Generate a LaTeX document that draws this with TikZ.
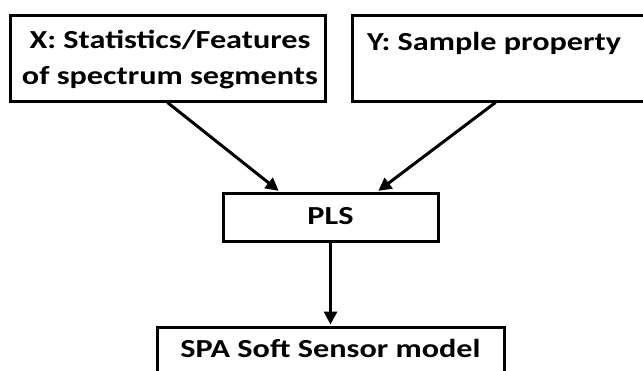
\documentclass[tikz,border=0pt]{standalone}
\usepackage{fontspec}
\setmainfont{Carlito}[FakeStretch=1.24]
\usetikzlibrary{arrows.meta}
\begin{document}
\begin{tikzpicture}[x=1pt,y=-1pt,
  box/.style={draw=black,line width=3pt,fill=white,inner sep=0pt},
  lbl/.style={anchor=base,inner sep=0pt,font=\fontsize{26}{31}\selectfont\bfseries},
  link/.style={line width=3pt,-{Triangle[length=13pt,width=13pt]},shorten >=1pt}]
\useasboundingbox (0,0) rectangle (643,370);
\clip (0,0) rectangle (643,370);
\fill[white] (0,0) rectangle (643,370);
% input boxes (the right one runs off the page)
\node[box,minimum width=315pt,minimum height=86pt] (X) at (167.5,58) {};
\node[box,minimum width=360pt,minimum height=86pt] (Y) at (532,58) {};
% model fitting and output
\node[box,minimum width=215pt,minimum height=48pt] (PLS) at (330.5,217) {};
\node[box,minimum width=347pt,minimum height=68pt] (SPA) at (330.5,361) {};
% labels
\node[lbl] (Xa) at (170,48.5) {X: Statistics/Features};
\node[lbl] (Xb) at (170,84) {of spectrum segments};
\node[lbl] (Yt) at (494,50) {Y: Sample property};
\node[lbl] (Pt) at (330.5,224) {PLS};
\node[lbl] (St) at (330.5,357) {SPA Soft Sensor model};
% connectors
\draw[link] (X.south) -- ([xshift=-51pt]PLS.north);
\draw[link] ([xshift=145pt]Y.south west) -- ([xshift=47pt]PLS.north);
\draw[link] (PLS.south) -- (SPA.north);
\end{tikzpicture}
\end{document}
